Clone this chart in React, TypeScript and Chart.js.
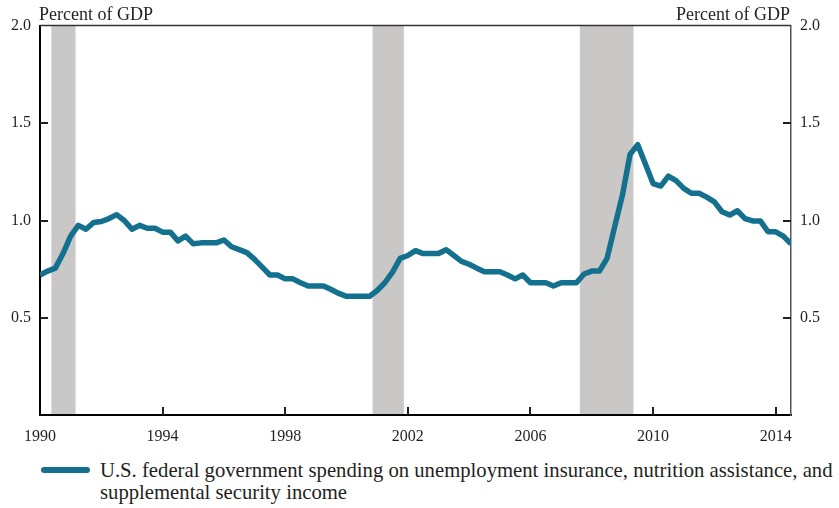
import React, { useEffect, useRef } from "react";
import { Chart, registerables } from "chart.js";

Chart.register(...registerables);

// ---- data ----
const START_YEAR = 1990; // first quarter plotted (1990 Q1)
const QUARTER = 0.25;
const spendingShare = [
  0.72, 0.74, 0.755, 0.83, // 1990
  0.92, 0.975, 0.955, 0.99, // 1991
  0.995, 1.01, 1.03, 1.0, // 1992
  0.955, 0.975, 0.96, 0.96, // 1993
  0.94, 0.94, 0.895, 0.92, // 1994
  0.88, 0.885, 0.885, 0.885, // 1995
  0.9, 0.865, 0.85, 0.835, // 1996
  0.8, 0.76, 0.72, 0.72, // 1997
  0.7, 0.7, 0.68, 0.663, // 1998
  0.663, 0.663, 0.645, 0.625, // 1999
  0.61, 0.61, 0.61, 0.61, // 2000
  0.64, 0.68, 0.735, 0.805, // 2001
  0.82, 0.845, 0.83, 0.83, // 2002
  0.83, 0.85, 0.82, 0.79, // 2003
  0.775, 0.755, 0.737, 0.737, // 2004
  0.737, 0.72, 0.7, 0.72, // 2005
  0.68, 0.68, 0.68, 0.663, // 2006
  0.68, 0.68, 0.68, 0.725, // 2007
  0.74, 0.74, 0.805, 0.97, // 2008
  1.13, 1.34, 1.39, 1.29, // 2009
  1.19, 1.177, 1.228, 1.205, // 2010
  1.165, 1.14, 1.14, 1.12, // 2011
  1.096, 1.045, 1.028, 1.05, // 2012
  1.01, 0.998, 0.998, 0.942, // 2013
  0.942, 0.92, 0.88, // 2014
];
const recessions: [number, number][] = [
  [1990.37, 1991.16],
  [2000.85, 2001.87],
  [2007.61, 2009.36],
];
const xTickValues = [1990, 1994, 1998, 2002, 2006, 2010, 2014];
const yTickValues = [0.5, 1.0, 1.5, 2.0];
const X_MIN = 1990;
const X_MAX = 2014.5;
const Y_MIN = 0;
const Y_MAX = 2.0;
const axisTitle = "Percent of GDP";
const seriesLabelLines = [
  "U.S. federal government spending on unemployment insurance, nutrition assistance, and",
  "supplemental security income",
];

// ---- styles ----
const LINE_COLOR = "#14708f";
const SHADE_COLOR = "#c9c8c6";
const TEXT_COLOR = "#231f20";
const FONT_FAMILY = "'Liberation Serif', 'Times New Roman', serif";
const CANVAS_W = 839;
const CANVAS_H = 445;

const decorPlugin = {
  id: "decor",
  beforeDraw(chart: any) {
    const { ctx, chartArea: a, scales } = chart;
    const x = scales.x;
    ctx.save();
    ctx.fillStyle = SHADE_COLOR;
    for (const [s, e] of recessions) {
      const x1 = x.getPixelForValue(s);
      const x2 = x.getPixelForValue(e);
      ctx.fillRect(x1, a.top, x2 - x1, a.bottom - a.top);
    }
    ctx.restore();
  },
  afterDraw(chart: any) {
    const { ctx, chartArea: a, scales } = chart;
    const x = scales.x;
    const y = scales.y;
    ctx.save();
    // top frame line
    ctx.strokeStyle = "#333";
    ctx.lineWidth = 1.5;
    ctx.beginPath();
    ctx.moveTo(a.left, a.top - 0.5);
    ctx.lineTo(a.right, a.top - 0.5);
    ctx.stroke();
    // inward ticks
    ctx.strokeStyle = "#231f20";
    ctx.lineWidth = 2;
    ctx.beginPath();
    for (const v of yTickValues) {
      if (v >= Y_MAX) continue;
      const py = Math.round(y.getPixelForValue(v));
      ctx.moveTo(a.left, py);
      ctx.lineTo(a.left + 8, py);
      ctx.moveTo(a.right - 8, py);
      ctx.lineTo(a.right, py);
    }
    for (const v of xTickValues) {
      if (v <= X_MIN) continue;
      const px = Math.round(x.getPixelForValue(v));
      ctx.moveTo(px, a.bottom);
      ctx.lineTo(px, a.bottom - 8);
    }
    ctx.stroke();
    // axis titles
    ctx.fillStyle = TEXT_COLOR;
    ctx.font = `18px ${FONT_FAMILY}`;
    ctx.textBaseline = "alphabetic";
    ctx.textAlign = "left";
    ctx.fillText(axisTitle, a.left - 1, 19.5);
    ctx.textAlign = "right";
    ctx.fillText(axisTitle, a.right - 1, 19.5);
    ctx.restore();
  },
};

export default function App() {
  const canvasRef = useRef<HTMLCanvasElement | null>(null);

  useEffect(() => {
    const canvas = canvasRef.current;
    if (!canvas) return;
    const points = spendingShare.map((v, i) => ({ x: START_YEAR + i * QUARTER, y: v }));
    const tickFont = { family: FONT_FAMILY, size: 16 };
    const chart = new Chart(canvas, {
      type: "line",
      data: {
        datasets: [
          {
            label: seriesLabelLines.join(" "),
            data: points,
            borderColor: LINE_COLOR,
            backgroundColor: LINE_COLOR,
            borderWidth: 5.5,
            pointRadius: 0,
            tension: 0,
            borderJoinStyle: "round",
            borderCapStyle: "butt",
            fill: false,
          },
        ],
      },
      options: {
        responsive: false,
        animation: false,
        devicePixelRatio: 1,
        layout: { padding: { top: 26, left: 0, right: 0, bottom: 0 } },
        plugins: {
          legend: { display: false },
          tooltip: { enabled: false },
          title: { display: false },
        },
        scales: {
          x: {
            type: "linear",
            position: "bottom",
            min: X_MIN,
            max: X_MAX,
            afterBuildTicks: (scale: any) => {
              scale.ticks = xTickValues.map((v) => ({ value: v }));
            },
            afterFit: (scale: any) => {
              scale.height = CANVAS_H - 415;
            },
            grid: { display: false, drawTicks: false },
            border: { display: true, color: "#000", width: 2 },
            ticks: {
              autoSkip: false,
              maxRotation: 0,
              padding: 12,
              color: TEXT_COLOR,
              font: tickFont,
              callback: (v: any) => String(v),
            },
          },
          y: {
            type: "linear",
            position: "left",
            min: Y_MIN,
            max: Y_MAX,
            afterBuildTicks: (scale: any) => {
              scale.ticks = yTickValues.map((v) => ({ value: v }));
            },
            afterFit: (scale: any) => {
              scale.width = 40;
            },
            grid: { display: false, drawTicks: false },
            border: { display: true, color: "#000", width: 2 },
            ticks: {
              padding: 9,
              color: TEXT_COLOR,
              font: tickFont,
              callback: (v: any) => Number(v).toFixed(1),
            },
          },
          y2: {
            type: "linear",
            position: "right",
            min: Y_MIN,
            max: Y_MAX,
            afterBuildTicks: (scale: any) => {
              scale.ticks = yTickValues.map((v) => ({ value: v }));
            },
            afterFit: (scale: any) => {
              scale.width = 48;
            },
            grid: { display: false, drawTicks: false },
            border: { display: true, color: "#555", width: 1.5 },
            ticks: {
              padding: 9,
              color: TEXT_COLOR,
              font: tickFont,
              callback: (v: any) => Number(v).toFixed(1),
            },
          },
        },
      },
      plugins: [decorPlugin],
    });
    return () => chart.destroy();
  }, []);

  return (
    <div
      style={{
        position: "absolute",
        left: 0,
        top: 0,
        width: CANVAS_W,
        height: 508,
        background: "#fff",
        overflow: "hidden",
      }}
    >
      <canvas
        ref={canvasRef}
        width={CANVAS_W}
        height={CANVAS_H}
        style={{ display: "block", width: CANVAS_W, height: CANVAS_H }}
      />
      <div
        style={{
          position: "absolute",
          left: 41,
          top: 467,
          width: 49,
          height: 5.5,
          borderRadius: 3,
          background: LINE_COLOR,
        }}
      />
      <div
        style={{
          position: "absolute",
          left: 100,
          top: 459,
          width: 739,
          fontFamily: FONT_FAMILY,
          fontSize: 20.7,
          lineHeight: "22px",
          color: TEXT_COLOR,
          whiteSpace: "nowrap",
        }}
      >
        <div>{seriesLabelLines[0]}</div>
        <div>{seriesLabelLines[1]}</div>
      </div>
    </div>
  );
}
